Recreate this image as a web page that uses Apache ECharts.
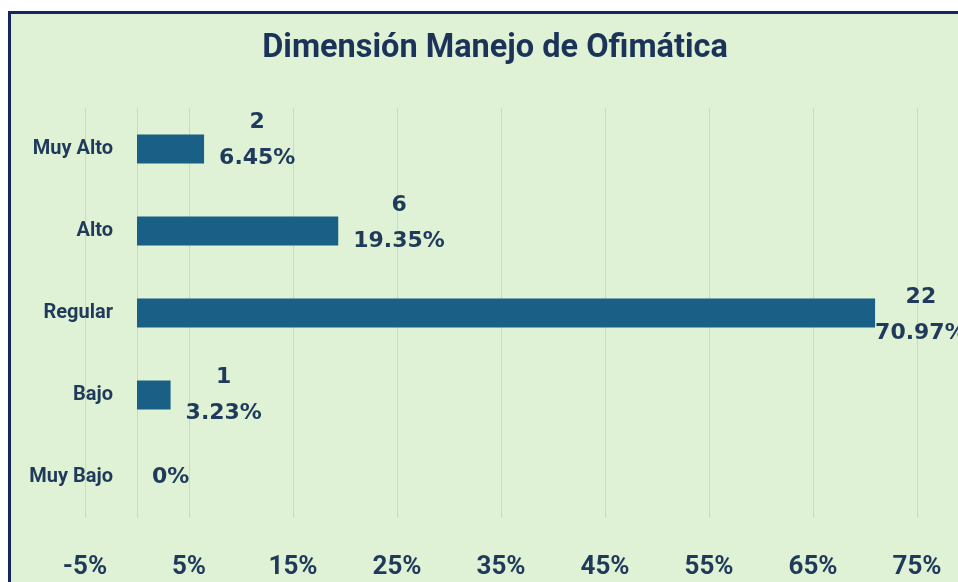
<!DOCTYPE html>
<html>
<head>
<meta charset="utf-8">
<title>Dimensión Manejo de Ofimática</title>
<script src="https://cdn.jsdelivr.net/npm/echarts@6/dist/echarts.min.js"></script>
<style>
    html, body {
        margin: 0;
        padding: 0;
        background: #ffffff;
        overflow: hidden;
        width: 958px;
        height: 582px;
    }
    .box {
        position: absolute;
        left: 8px;
        top: 11px;
        border-left: 3px solid #15275e;
        border-top: 3px solid #15275e;
        background: #dff2d5;
    }
    .chart {
        width: 990px;
        height: 568px;
    }
</style>
</head>
<body>
<div class="box"><div class="chart"></div></div>
<script>
// 数据
var categories = ['Muy Alto', 'Alto', 'Regular', 'Bajo', 'Muy Bajo'];
var counts = [2, 6, 22, 1, 0];
var percents = [6.45, 19.35, 70.97, 3.23, 0];
var tickLabels = ['-5%', '5%', '15%', '25%', '35%', '45%', '55%', '65%', '75%'];

(function() {
    var textColor = '#1f3a5a';

    // 标签微调（Excel 里被手动拖动过的标签）
    var labelShift = {
        'Muy Alto': { offset: [0, -9] },
        'Alto': { offset: [0, -8] },
        'Regular': { distance: 0, offset: [0, 2] }
    };

    var seriesData = percents.map(function(v, i) {
        var item = { value: v };
        var s = labelShift[categories[i]];
        if (s) item.label = s;
        return item;
    });

    var option = {
        animation: false,
        title: {
            text: 'Dimensión Manejo de Ofimática',
            left: 479,
            top: 13,
            textAlign: 'center',
            textStyle: {
                fontFamily: 'Roboto',
                fontWeight: 'bold',
                fontSize: 32.5,
                color: '#1b3358'
            }
        },
        grid: {
            left: 74,
            top: 94,
            width: 884,
            height: 410,
            containLabel: false,
            outerBoundsMode: 'none'
        },
        xAxis: {
            type: 'value',
            min: -5,
            max: 80,
            interval: 10,
            axisLine: { show: false },
            axisTick: { show: false },
            splitLine: {
                show: true,
                lineStyle: { color: '#cbd9c5', width: 1 }
            },
            axisLabel: {
                margin: 36,
                fontFamily: 'Roboto',
                fontWeight: 'bold',
                fontSize: 26,
                color: textColor,
                formatter: function(v) {
                    var idx = Math.round((v + 5) / 10);
                    return tickLabels[idx] || '';
                }
            }
        },
        yAxis: {
            type: 'category',
            inverse: true,
            data: categories,
            axisLine: {
                show: true,
                onZero: true,
                lineStyle: { color: '#cbd9c5', width: 1 }
            },
            axisTick: { show: false },
            axisLabel: {
                // 标签在 0 轴左侧，越过 -5% 网格线
                margin: -28,
                fontFamily: 'Roboto',
                fontWeight: 'bold',
                fontSize: 20,
                color: textColor
            }
        },
        series: [{
            name: 'Dimensión Manejo de Ofimática',
            type: 'bar',
            barWidth: 29,
            data: seriesData,
            itemStyle: {
                color: '#1a5f86'
            },
            label: {
                show: true,
                position: 'right',
                distance: 15,
                formatter: function(p) {
                    var c = counts[p.dataIndex];
                    var pct = percents[p.dataIndex] + '%';
                    if (!c) return '{b|' + pct + '}';
                    return '{a|' + c + '}\n{b|' + pct + '}';
                },
                rich: {
                    a: {
                        fontFamily: 'DejaVu Sans',
                        fontWeight: 'bold',
                        fontSize: 22,
                        lineHeight: 36,
                        color: textColor,
                        align: 'center'
                    },
                    b: {
                        fontFamily: 'DejaVu Sans',
                        fontWeight: 'bold',
                        fontSize: 22,
                        lineHeight: 36,
                        color: textColor,
                        align: 'center'
                    }
                }
            }
        }]
    };

    var myChart = echarts.init(document.querySelector('.chart'));
    myChart.setOption(option);
})();
</script>
</body>
</html>
